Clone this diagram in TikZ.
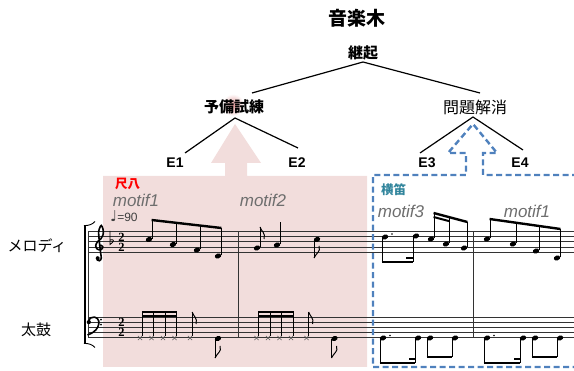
\documentclass[tikz,border=0pt]{standalone}
\usepackage{tikz}
\usepackage{fontspec}
\setmainfont{Liberation Sans}
\newfontfamily\jpf{Noto Sans CJK JP}
\newfontfamily\djv{DejaVu Sans}
\newfontfamily\tsr{Liberation Serif}
\definecolor{pinkbg}{RGB}{242,221,220}
\definecolor{glowc}{RGB}{225,150,150}
\definecolor{bluedash}{RGB}{79,129,189}
\definecolor{hengc}{RGB}{49,133,156}
\definecolor{motifc}{RGB}{110,110,110}
\newcommand\mhead[2]{\fill[rotate around={20:(#1,#2)}] (#1,#2) ellipse (3.3 and 2.4);}
\newcommand\xhead[2]{\draw[line width=0.6pt, black!65] ({#1-2.1},{#2-2.1}) -- ({#1+2.1},{#2+2.1}) ({#1-2.1},{#2+2.1}) -- ({#1+2.1},{#2-2.1});}
\begin{document}
\begin{tikzpicture}[x=1pt,y=-1pt,
  edge/.style={line width=1.2pt},
  staffline/.style={line width=0.6pt, black!80},
  barl/.style={line width=0.7pt, black!80},
  stem/.style={line width=0.8pt},
  beam/.style={line width=2.4pt},
  flag/.style={line width=1pt},
  jpb/.style={font=\jpf\bfseries\fontsize{15}{18}\selectfont, inner sep=0},
  jpr/.style={font=\jpf\fontsize{15}{18}\selectfont, inner sep=0},
  elbl/.style={font=\bfseries\fontsize{14}{16}\selectfont, inner sep=0},
  motif/.style={font=\itshape\fontsize{17}{20}\selectfont, text=motifc, inner sep=0, anchor=base},
  tsig/.style={font=\tsr\bfseries\fontsize{12.5}{10.3}\selectfont, inner sep=0, align=center},
]
\useasboundingbox (0,0) rectangle (574,371);

% pink region with arrow
\fill[pinkbg] (103,176) -- (225,176) -- (225,163) -- (211,163) -- (235,124) -- (261,163) -- (247,163) -- (247,176) -- (367,176) -- (367,367) -- (103,367) -- cycle;
\shade[inner color=glowc, outer color=white] (233,105) circle (11);

% staves
\foreach \i in {0,...,4} {
  \draw[staffline] (88,{231.6+5.1*\i}) -- (574,{231.6+5.1*\i});
  \draw[staffline] (88,{317+5.1*\i}) -- (574,{317+5.1*\i});
}
\foreach \xx in {88,238,473} { \draw[barl] (\xx,231.6) -- (\xx,337.4); }
% bracket
\draw[line width=2.4pt] (85,226) -- (85,343);
\draw[line width=0.9pt] (84,225.6) .. controls (89,225.6) and (92,224.5) .. (95,221.5);
\draw[line width=0.9pt] (84,343.4) .. controls (89,343.4) and (92,344.5) .. (95,347.5);

% treble clef
\draw[line width=1.6pt] plot[smooth, tension=0.6] coordinates {(100.5,245.1) (102.8,246.9) (101.0,249.7) (97.45,249.2) (95.7,245.9) (97.45,241.8) (101.0,238.7) (103.1,234.7) (103.1,229.6) (101.3,225.5) (99.5,228.5) (98.7,234.2) (100.5,252.0) (101.3,258.1) (99.5,260.7) (96.9,259.7)};
\fill (97.7,258.2) circle (2.0);
% flat
\draw[line width=0.8pt] (110,231) -- (110,244.5) .. controls (114,242) and (115,238.5) .. (110,240);
% time signatures
\node[tsig] (tsa) at (121.5,242.2) {2\\2};
\node[tsig] (tsb) at (121.5,327.5) {2\\2};
% bass clef
\fill (88.8,322.1) circle (2.1);
\draw[line width=1.6pt] (88.8,322.1) .. controls (88.8,318) and (92,316.6) .. (94.5,317.1) .. controls (99.3,318) and (99.8,323) .. (97.8,327) .. controls (95.8,331) and (92,333.5) .. (87.5,335);
\fill (101,319.6) circle (1) (101,324.6) circle (1);

% tempo
\node[inner sep=0, anchor=west, text=black!75] (tempo) at (110,216.5) {{\djv\fontsize{15}{15}\selectfont ♩}{\fontsize{12}{12}\selectfont =90}};

% ---- melody m1
\mhead{149}{239.5}\mhead{173}{244.5}\mhead{197}{250}\mhead{218}{256}
\draw[stem] (152,239) -- (152,220) (176,244) -- (176,222.8) (200,249.5) -- (200,225.6) (221,255.5) -- (221,228);
\draw[beam] (151.6,220) -- (221.4,228);
% ---- melody m2
\mhead{257}{248}\mhead{277}{245}\mhead{317}{239.5}
\draw[stem] (260,247.5) -- (260,227) (280,244.5) -- (280,222) (314,240) -- (314,258);
\draw[flag] (260,227) .. controls (261,231) and (266,233) .. (264,239);
\draw[flag] (314,258) .. controls (316,253) and (321,252) .. (319,246);
% ---- melody m3
\mhead{385}{237}\mhead{416}{236}
\fill (392,234) circle (0.9);
\draw[stem] (382,238) -- (382,262) (413,237) -- (413,262);
\draw[beam] (381.6,262) -- (413.4,262);
\draw[line width=2pt] (406,258) -- (413.4,258);
\mhead{431}{239}\mhead{446}{244}\mhead{464}{248}
\draw[stem] (434,238.5) -- (434,213) (449,243.5) -- (449,217.1) (467,247.5) -- (467,222);
\draw[beam] (433.6,213) -- (467.4,222);
\draw[line width=2pt] (433.6,217) -- (449,221.1);
% ---- melody m4
\mhead{487}{239}\mhead{513}{244}\mhead{536}{251}\mhead{557}{258}
\draw[stem] (490,238.5) -- (490,219) (516,243.5) -- (516,222.7) (539,250.5) -- (539,226) (560,257.5) -- (560,229);
\draw[beam] (489.6,219) -- (560.4,229);

% ---- bass m1 and m2
\foreach \off in {0,116.5} {
  \xhead{140+\off}{338}\xhead{151.5+\off}{338}\xhead{163+\off}{338}\xhead{174.5+\off}{338}\xhead{190+\off}{338}
  \draw[stem, line width=0.7pt] ({142.2+\off},336) -- ({142.2+\off},312) ({153.7+\off},336) -- ({153.7+\off},312) ({165.2+\off},336) -- ({165.2+\off},312) ({176.7+\off},336) -- ({176.7+\off},312) ({192.2+\off},336) -- ({192.2+\off},312);
  \draw[line width=2pt] ({141.8+\off},312.5) -- ({177.1+\off},312.5) ({141.8+\off},315.7) -- ({177.1+\off},315.7);
  \draw[flag] ({192.2+\off},312) .. controls ({193+\off},316) and ({198+\off},318) .. ({196+\off},324);
  \mhead{218+\off}{338.5}
  \draw[stem] ({215+\off},339) -- ({215+\off},358);
  \draw[flag] ({215+\off},358) .. controls ({217+\off},353) and ({222+\off},352) .. ({220+\off},346);
}
% ---- bass m3 and m4
\foreach \a/\b/\c/\d in {383/418/430/455, 487/523/535/560} {
  \mhead{\a}{338}\mhead{\b}{338}\mhead{\c}{338}\mhead{\d}{338}
  \fill ({\a+7},335.5) circle (0.9);
  \draw[stem] ({\a-3},338.5) -- ({\a-3},363) ({\b-3},338.5) -- ({\b-3},363) ({\c-3},338.5) -- ({\c-3},357) ({\d-3},338.5) -- ({\d-3},357);
  \draw[beam] ({\a-3.4},363) -- ({\b-2.6},363);
  \draw[line width=2pt] ({\b-9},359) -- ({\b-2.6},359);
  \draw[beam] ({\c-3.4},357) -- ({\d-2.6},357);
}

% blue dashed region with arrow
\draw[bluedash, line width=2.4pt, dash pattern=on 6pt off 3.5pt, line join=miter]
  (578,175) -- (483,175) -- (483,153) -- (497,153) -- (473,124) -- (448,153) -- (466,153) -- (466,175) -- (373,175) -- (373,367) -- (578,367);

% labels
\node[font=\jpf\bfseries\fontsize{19}{22}\selectfont, inner sep=0] (title) at (357,18) {音楽木};
\node[jpb] (keiki) at (363,52.5) {継起};
\node[jpb] (yobi) at (234,107) {予備試練};
\node[jpr, font=\jpf\fontsize{16}{18}\selectfont] (mondai) at (475,107) {問題解消};
\node[elbl] (E1) at (175,163) {E1};
\node[elbl] (E2) at (297,163) {E2};
\node[elbl] (E3) at (427,163) {E3};
\node[elbl] (E4) at (520,163) {E4};
\node[font=\jpf\bfseries\fontsize{12.5}{13}\selectfont, text=red, inner sep=0] (shaku) at (127.5,184) {尺八};
\node[font=\jpf\bfseries\fontsize{12.5}{13}\selectfont, text=hengc, inner sep=0] (yoko) at (393.5,190) {横笛};
\node[motif] (m1) at (136,207) {motif1};
\node[motif] (m2) at (263,207) {motif2};
\node[motif] (m3) at (401,218) {motif3};
\node[motif] (m4) at (527,218) {motif1};
\node[jpr] (melo) at (37,246) {メロディ};
\node[jpr] (taiko) at (36,330) {太鼓};

% tree edges
\coordinate (kb) at (363,62);
\coordinate (kl) at (252,93);
\coordinate (kr) at (480,93);
\coordinate (yb) at (235,118);
\coordinate (e1t) at (185,153);
\coordinate (e2t) at (298,148);
\coordinate (mb) at (473,117);
\coordinate (e3t) at (420,153);
\coordinate (e4t) at (523,150);
\draw[edge] (kl) -- (kb) -- (kr);
\draw[edge] (e1t) -- (yb) -- (e2t);
\draw[edge] (e3t) -- (mb) -- (e4t);
\end{tikzpicture}
\end{document}
